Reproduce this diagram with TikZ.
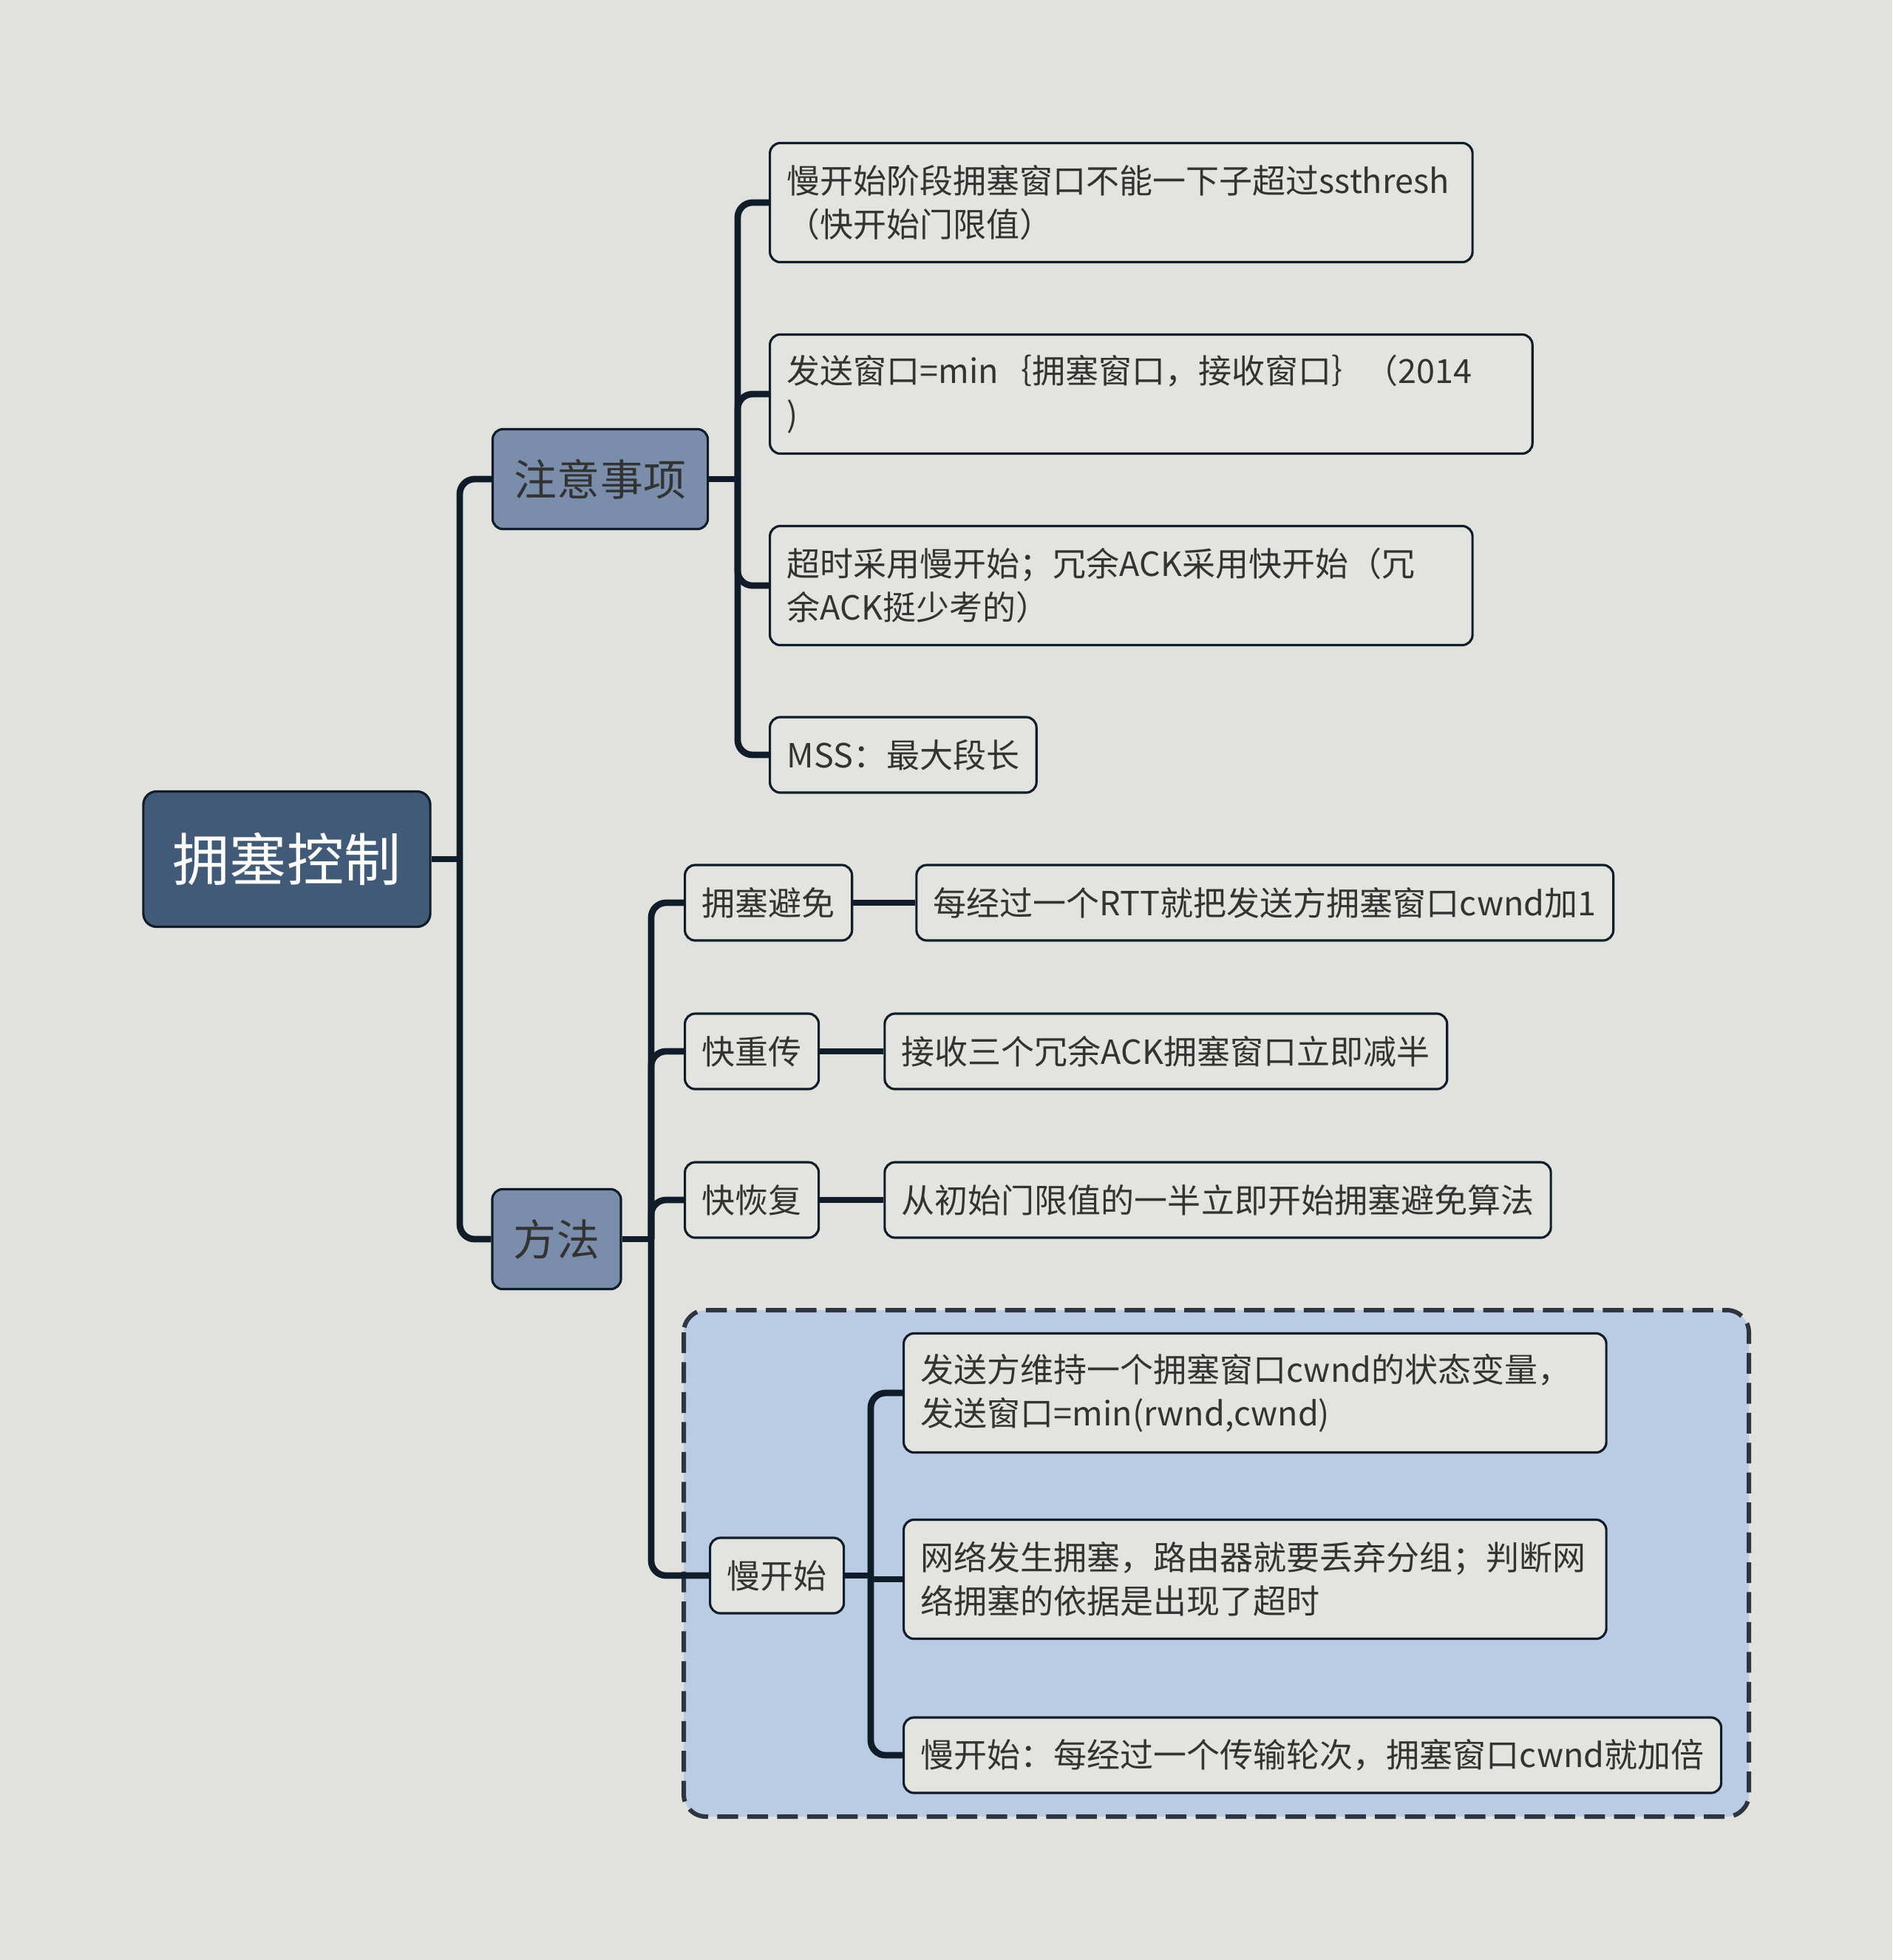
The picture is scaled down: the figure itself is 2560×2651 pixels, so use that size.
\documentclass[tikz,border=0pt]{standalone}
\usepackage{fontspec}
\setmainfont{Noto Sans CJK SC}
\usetikzlibrary{positioning}

\definecolor{bgcol}{HTML}{E1E2DD}
\definecolor{rootcol}{HTML}{415A78}
\definecolor{topiccol}{HTML}{7A8DAA}
\definecolor{leafcol}{HTML}{E3E4DF}
\definecolor{linecol}{HTML}{111C2B}
\definecolor{textcol}{HTML}{333333}
\definecolor{zonecol}{HTML}{BACBE4}
\definecolor{zoneline}{HTML}{2E3440}

\tikzset{
  box/.style={rectangle,draw=linecol,line width=0.9pt,rounded corners=0.14cm,inner xsep=0.23cm,text=textcol},
  rootbox/.style={box,fill=rootcol,text=white,rounded corners=0.18cm,minimum width=3.88cm,minimum height=1.83cm,font=\fontsize{21.9}{26}\selectfont},
  topicbox/.style={box,fill=topiccol,minimum height=1.35cm,font=\fontsize{16.5}{20}\selectfont},
  leafbox/.style={box,fill=leafcol,minimum height=1.02cm,font=\fontsize{12.8}{16.8}\selectfont,anchor=west},
  widebox/.style={leafbox,align=left,text width=#1,minimum height=1.61cm},
  link/.style={draw=linecol,line width=2.5pt,rounded corners=0.2cm},
}

\begin{document}
\begin{tikzpicture}[x=0.01cm,y=-0.01cm]
  \fill[bgcol] (0,0) rectangle (2560,2651);
  \useasboundingbox (0,0) rectangle (2560,2651);
  % slow start zone
  \draw[fill=zonecol,draw=zoneline,line width=1.7pt,dash pattern=on 8pt off 3.5pt,rounded corners=0.3cm] (925,1772) rectangle (2366,2457);

  \node[rootbox] (root) at (388,1162) {拥塞控制};
  \node[topicbox,minimum width=2.91cm] (notes) at (812,648) {注意事项};
  \node[topicbox,minimum width=1.74cm] (method) at (753,1676) {方法};

  \node[widebox=9.04cm] (ssth) at (1040,274) {慢开始阶段拥塞窗口不能一下子超过ssthresh\\（快开始门限值）};
  \node[widebox=9.85cm] (swnd) at (1040,533) {发送窗口=min｛拥塞窗口，接收窗口｝（2014\\)};
  \node[widebox=9.04cm] (dupack) at (1040,792) {超时采用慢开始；冗余ACK采用快开始（冗\\余ACK挺少考的）};
  \node[leafbox] (mss) at (1040,1021) {MSS：最大段长};

  \node[leafbox,minimum width=2.25cm] (avoid) at (925,1221) {拥塞避免};
  \node[leafbox,right=0.84cm of avoid] (avoidtxt) {每经过一个RTT就把发送方拥塞窗口cwnd加1};
  \node[leafbox,minimum width=1.79cm] (fastre) at (925,1422) {快重传};
  \node[leafbox,right=0.86cm of fastre] (fastretxt) {接收三个冗余ACK拥塞窗口立即减半};
  \node[leafbox,minimum width=1.79cm] (fastrec) at (925,1623) {快恢复};
  \node[leafbox,right=0.86cm of fastrec] (fastrectxt) {从初始门限值的一半立即开始拥塞避免算法};
  \node[leafbox,minimum width=1.79cm] (slow) at (959,2131) {慢开始};

  \node[widebox=9.04cm] (cwnd) at (1221,1884) {发送方维持一个拥塞窗口cwnd的状态变量，\\发送窗口=min(rwnd,cwnd)};
  \node[widebox=9.04cm] (drop) at (1221,2136) {网络发生拥塞，路由器就要丢弃分组；判断网\\络拥塞的依据是出现了超时};
  \node[leafbox] (double) at (1221,2374) {慢开始：每经过一个传输轮次，拥塞窗口cwnd就加倍};

  \coordinate (rootj) at (622,1162);
  \coordinate (notesj) at (998,648);
  \coordinate (methodj) at (881,1676);
  \coordinate (slowj) at (1178,2131);

  \draw[link] (root.east) -- (rootj);
  \foreach \c in {notes,method} \draw[link] (rootj) |- (\c.west);
  \draw[link] (notes.east) -- (notesj);
  \foreach \c in {ssth,swnd,dupack,mss} \draw[link] (notesj) |- (\c.west);
  \draw[link] (method.east) -- (methodj);
  \foreach \c in {avoid,fastre,fastrec,slow} \draw[link] (methodj) |- (\c.west);
  \draw[link] (avoid) -- (avoidtxt);
  \draw[link] (fastre) -- (fastretxt);
  \draw[link] (fastrec) -- (fastrectxt);
  \draw[link] (slow.east) -- (slowj);
  \draw[link,rounded corners=0pt] (slowj) |- (drop.west);
  \foreach \c in {cwnd,double} \draw[link] (slowj) |- (\c.west);
\end{tikzpicture}
\end{document}
